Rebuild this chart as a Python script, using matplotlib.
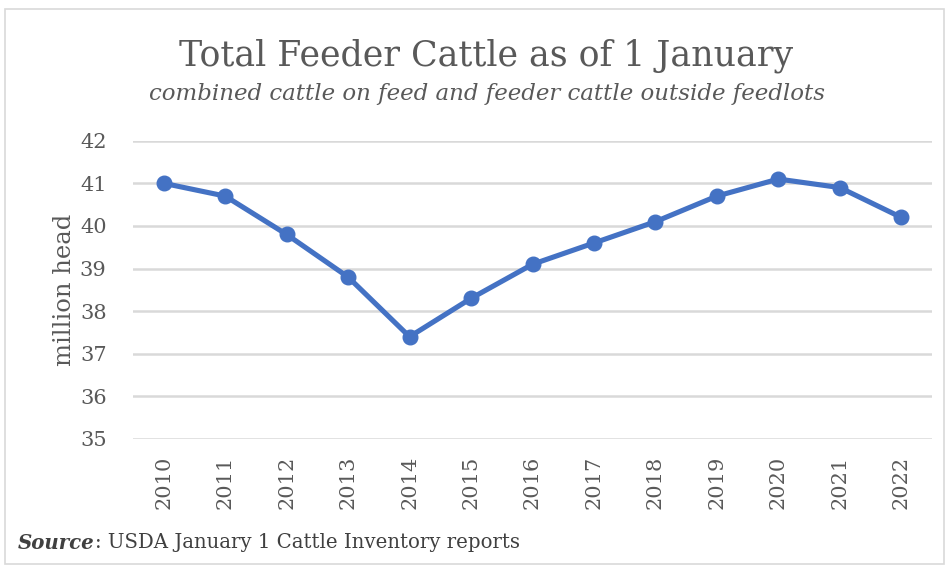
import matplotlib

matplotlib.use("Agg")
import matplotlib.pyplot as plt
from matplotlib.patches import Rectangle
from matplotlib.text import Annotation

YEARS = ["2010", "2011", "2012", "2013", "2014", "2015", "2016",
         "2017", "2018", "2019", "2020", "2021", "2022"]
HEAD = [41.0, 40.7, 39.8, 38.8, 37.4, 38.3, 39.1,
        39.6, 40.1, 40.7, 41.1, 40.9, 40.2]
Y_TICKS = [35, 36, 37, 38, 39, 40, 41, 42]

TEXT = "#595959"
BLUE = "#4472C4"
GRID = "#d9d9d9"

plt.rcParams.update({"font.family": "DejaVu Serif"})

fig = plt.figure(figsize=(9.49, 5.70), dpi=100)
fig.patches.append(Rectangle((5 / 949, 6 / 570), 939 / 949, 555 / 570,
                             transform=fig.transFigure, fill=False,
                             edgecolor=GRID, linewidth=1.2))

ax = fig.add_axes([133 / 949, 1 - 439 / 570, 799 / 949, 298.3 / 570])
x = list(range(len(YEARS)))
ax.plot(x, HEAD, color=BLUE, linewidth=3.7, marker="o", markersize=10.5,
        zorder=3, solid_capstyle="round")

ax.set_xlim(-0.5, len(YEARS) - 0.5)
ax.set_ylim(35, 42)
ax.set_yticks(Y_TICKS)
ax.set_xticks(x)
ax.set_xticklabels(YEARS, rotation=90)
ax.tick_params(axis="both", length=0, colors=TEXT, labelsize=15)
ax.tick_params(axis="y", pad=19)
ax.tick_params(axis="x", pad=12)
ax.grid(axis="y", color=GRID, linewidth=1.8)
ax.set_axisbelow(True)
for s in ax.spines.values():
    s.set_visible(False)
ax.set_ylabel("million head", color=TEXT, fontsize=17.5, labelpad=3)

fig.text(486 / 949, 1 - 56 / 570, "Total Feeder Cattle as of 1 January",
         ha="center", va="center", fontsize=25, color=TEXT)
fig.text(487 / 949, 1 - 94 / 570,
         "combined cattle on feed and feeder cattle outside feedlots",
         ha="center", va="center", fontsize=16.5, style="italic", color=TEXT)

# bold-italic "Source" followed by plain text
src = fig.text(18 / 949, 1 - 543 / 570, "Source",
               ha="left", va="center", fontsize=14.2, color="#404040",
               style="italic", weight="bold")
fig.add_artist(Annotation(
    ": USDA January 1 Cattle Inventory reports", xy=(1, 0.5),
    xycoords=src, ha="left", va="center", fontsize=14.2, color="#404040"))

fig.savefig("out.png", dpi=100)
